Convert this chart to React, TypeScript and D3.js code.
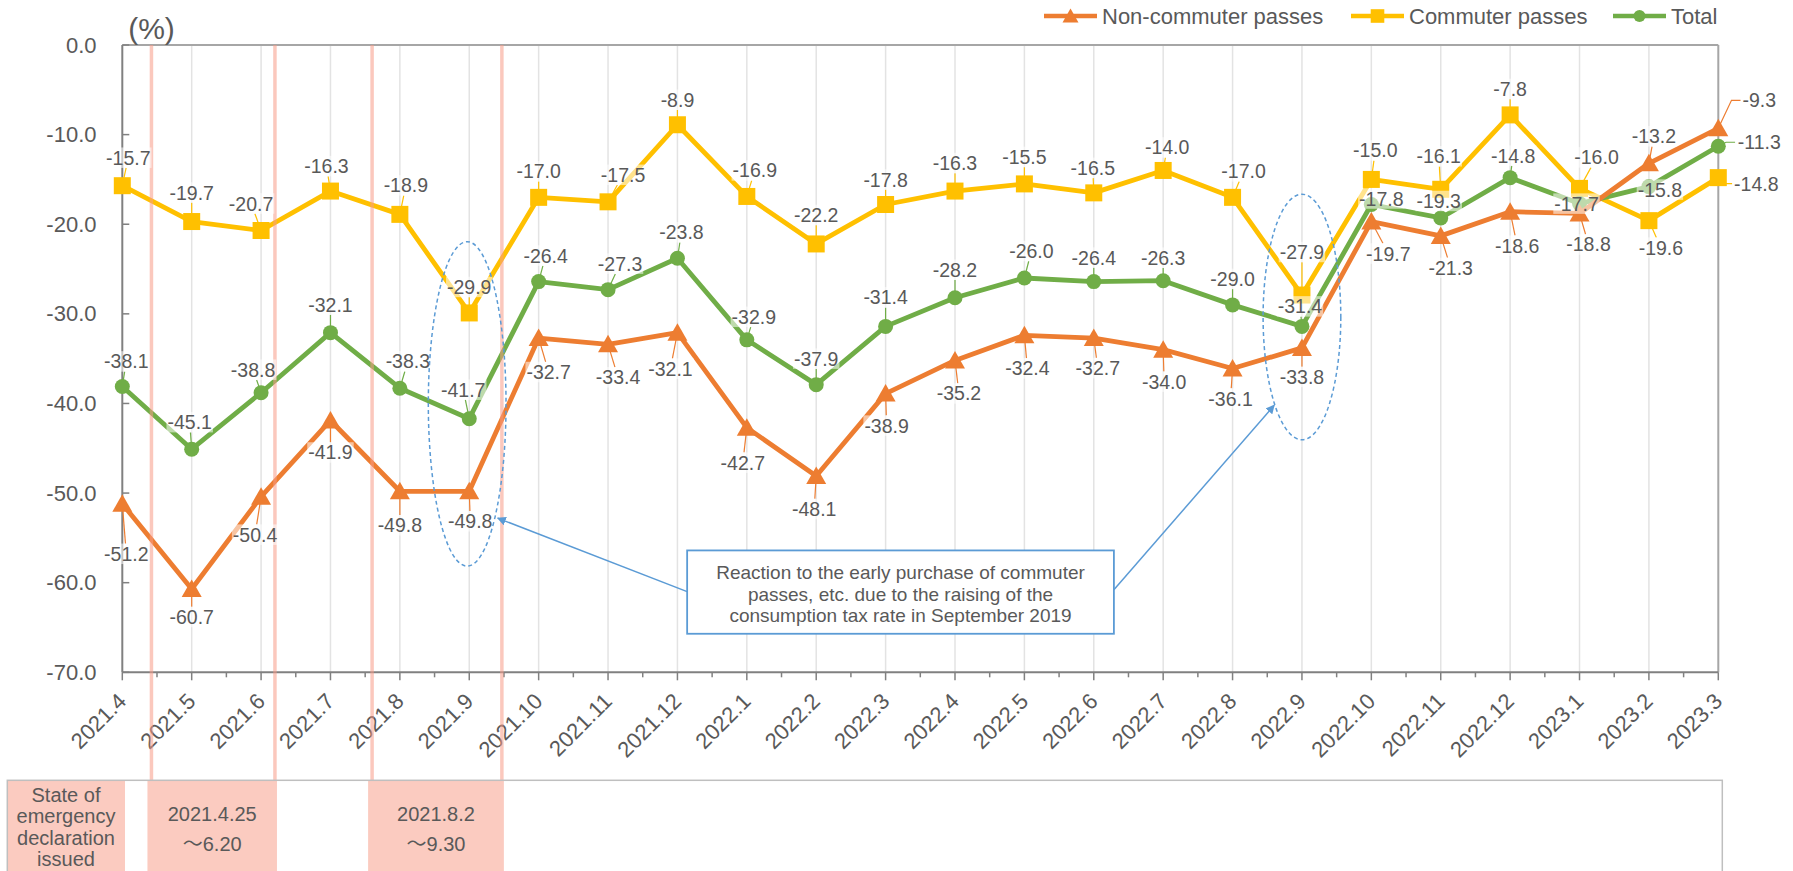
import * as d3 from "d3";

// months on the category axis
const categories = [
  "2021.4", "2021.5", "2021.6", "2021.7", "2021.8", "2021.9", "2021.10", "2021.11", "2021.12",
  "2022.1", "2022.2", "2022.3", "2022.4", "2022.5", "2022.6", "2022.7", "2022.8", "2022.9",
  "2022.10", "2022.11", "2022.12", "2023.1", "2023.2", "2023.3",
];

// year-on-year change (%)
const nonCommuter = [-51.2, -60.7, -50.4, -41.9, -49.8, -49.8, -32.7, -33.4, -32.1, -42.7, -48.1, -38.9, -35.2, -32.4, -32.7, -34.0, -36.1, -33.8, -19.7, -21.3, -18.6, -18.8, -13.2, -9.3];
const commuter = [-15.7, -19.7, -20.7, -16.3, -18.9, -29.9, -17.0, -17.5, -8.9, -16.9, -22.2, -17.8, -16.3, -15.5, -16.5, -14.0, -17.0, -27.9, -15.0, -16.1, -7.8, -16.0, -19.6, -14.8];
const total = [-38.1, -45.1, -38.8, -32.1, -38.3, -41.7, -26.4, -27.3, -23.8, -32.9, -37.9, -31.4, -28.2, -26.0, -26.4, -26.3, -29.0, -31.4, -17.8, -19.3, -14.8, -17.7, -15.8, -11.3];

const yTicks = [0, -10, -20, -30, -40, -50, -60, -70];

// state of emergency periods, as positions on the month index
const emergencyPeriods = [
  { from: 0.42, to: 2.2, text: ["2021.4.25", "～6.20"] },
  { from: 3.6, to: 5.47, text: ["2021.8.2", "～9.30"] },
];

// data label offsets in px (dx, dy) from each point
const nonCommuterLabelPos = [[4, 50], [0, 28], [-6, 38], [0, 32], [0, 34], [1, 30], [10, 34], [10, 33], [-7, 36], [-4, 35], [-2, 33], [1, 32], [4, 33], [3, 33], [4, 30], [1, 32], [-2, 30], [0, 29], [17, 32], [10, 32], [7, 34], [9, 31], [5, -27], [41, -28]];
const commuterLabelPos = [[6, -28], [0, -29], [-10, -27], [-4, -25], [6, -29], [0, -26], [0, -26], [15, -27], [0, -25], [8, -26], [0, -29], [0, -25], [0, -28], [0, -27], [-1, -25], [4, -23], [11, -26], [0, -43], [4, -29], [-2, -33], [0, -26], [17, -31], [12, 27], [38, 6]];
const totalLabelPos = [[4, -25], [-2, -27], [-8, -23], [0, -28], [8, -27], [-6, -29], [7, -26], [12, -26], [4, -26], [7, -23], [0, -26], [0, -29], [0, -28], [7, -27], [0, -24], [0, -23], [0, -26], [-2, -20], [10, -6], [-2, -17], [3, -22], [-3, 0], [11, 3], [41, -4]];

const TEXT = "#595959";
const FONT = "'Liberation Sans', Arial, 'Noto Sans CJK JP', sans-serif";
const BLUE = "#5B9BD5";

const fmt = (v: number) => v.toFixed(1);
const charW = (c: string) => (c === "." ? 0.278 : c === "-" ? 0.333 : 0.556);
const textWidth = (s: string, fs: number) => s.split("").reduce((a, c) => a + charW(c), 0) * fs;

const series = [
  { name: "Commuter passes", values: commuter, color: "#FFC000", marker: "square", pos: commuterLabelPos },
  { name: "Total", values: total, color: "#70AD47", marker: "circle", pos: totalLabelPos },
  { name: "Non-commuter passes", values: nonCommuter, color: "#ED7D31", marker: "triangle", pos: nonCommuterLabelPos },
];

const legendItems = [
  { name: "Non-commuter passes", color: "#ED7D31", marker: "triangle", x: 1044 },
  { name: "Commuter passes", color: "#FFC000", marker: "square", x: 1351 },
  { name: "Total", color: "#70AD47", marker: "circle", x: 1613 },
];

function Marker({ type, cx, cy, color, s = 1 }) {
  if (type === "triangle")
    return <path d={`M${cx},${cy - 9.5 * s} L${cx + 10 * s},${cy + 8 * s} L${cx - 10 * s},${cy + 8 * s} Z`} fill={color} />;
  if (type === "square")
    return <rect x={cx - 8.5 * s} y={cy - 8.5 * s} width={17 * s} height={17 * s} fill={color} />;
  return <circle cx={cx} cy={cy} r={7.5 * s} fill={color} />;
}

export default function App() {
  const x = d3.scaleLinear().domain([0, categories.length - 1]).range([122.3, 1718.3]);
  const y = d3.scaleLinear().domain([0, -70]).range([45, 672.3]);
  const [x0, x1] = x.range();
  const [yTop, yBot] = y.range();

  const line = d3.line<number>().x((_, i) => x(i)).y((d) => y(d));
  const labelFs = 19.5;

  const labels: any[] = [];
  series.forEach((s) => {
    s.values.forEach((v, i) => {
      const px = x(i), py = y(v);
      const cx = px + s.pos[i][0], cy = py + s.pos[i][1];
      const txt = fmt(v);
      const w = textWidth(txt, labelFs) + 2, h = labelFs * 1.05;
      let leader: string | null = null;
      const dx = cx - px, dy = cy - py;
      if (dx > w / 2 + 4) {
        const ex = cx - w / 2 - 1;
        leader = `M${px},${py} L${ex - 9},${cy} L${ex},${cy}`;
      } else if (Math.abs(dx) > w / 2 || Math.abs(dy) > h / 2) {
        const t = Math.min(dx === 0 ? Infinity : (w / 2) / Math.abs(dx), dy === 0 ? Infinity : (h / 2) / Math.abs(dy));
        const ex = cx - t * dx, ey = cy - t * dy;
        if (Math.hypot(ex - px, ey - py) > 9) leader = `M${px},${py} L${ex},${ey}`;
      }
      labels.push({ key: s.name + i, cx, cy, w, h, txt, leader, color: s.color });
    });
  });

  // annotation geometry (in data space)
  const ellipses = [
    { i: 4.97, v: -40.05, ri: 0.56, rv: 18.1 },
    { i: 17, v: -30.35, ri: 0.56, rv: 13.7 },
  ];
  const box = { i0: 8.14, i1: 14.29, v0: -56.4, v1: -65.7 };
  const arrows = [
    { from: [8.14, -61.0], to: [5.41, -52.8] },
    { from: [14.29, -60.8], to: [16.6, -40.2] },
  ];
  const calloutLines = [
    "Reaction to the early purchase of commuter",
    "passes, etc. due to the raising of the",
    "consumption tax rate in September 2019",
  ];

  return (
    <svg width={1793} height={871} style={{ position: "absolute", left: 0, top: 0, display: "block", background: "#fff" }} fontFamily={FONT}>
      <defs>
        <marker id="arrowHead" viewBox="0 0 10 10" refX="9" refY="5" markerWidth="6" markerHeight="6" orient="auto">
          <path d="M0,0 L10,5 L0,10 Z" fill={BLUE} />
        </marker>
      </defs>

      {/* gridlines */}
      {categories.map((c, i) =>
        i > 0 && i < categories.length - 1 ? (
          <line key={c} x1={x(i)} x2={x(i)} y1={yTop} y2={yBot} stroke="#E3E3E3" strokeWidth={1.5} />
        ) : null
      )}
      {/* plot border top / right */}
      <line x1={x0} x2={x1} y1={yTop} y2={yTop} stroke="#A6A6A6" strokeWidth={2} />
      <line x1={x1} x2={x1} y1={yTop} y2={yBot} stroke="#A6A6A6" strokeWidth={2} />

      {/* y axis */}
      <line x1={x0} x2={x0} y1={yTop} y2={yBot} stroke="#808080" strokeWidth={2} />
      {yTicks.map((t) => (
        <g key={t}>
          <line x1={x0} x2={x0 + 7} y1={y(t)} y2={y(t)} stroke="#808080" strokeWidth={1.5} />
          <text x={96.5} y={y(t)} textAnchor="end" dominantBaseline="central" fontSize={22} fill={TEXT}>
            {fmt(t)}
          </text>
        </g>
      ))}
      <text x={151.5} y={28} textAnchor="middle" dominantBaseline="central" fontSize={30} fill={TEXT}>(%)</text>

      {/* x axis */}
      <line x1={x0} x2={x1} y1={yBot} y2={yBot} stroke="#808080" strokeWidth={2} />
      {categories.map((c, i) => (
        <g key={c}>
          <line x1={x(i)} x2={x(i)} y1={yBot} y2={yBot + 8} stroke="#808080" strokeWidth={1.5} />
          {i < categories.length - 1 && (
            <line x1={x(i + 0.5)} x2={x(i + 0.5)} y1={yBot} y2={yBot + 5} stroke="#808080" strokeWidth={1.5} />
          )}
          <text
            transform={`translate(${x(i)},${yBot + 25}) rotate(-45)`}
            textAnchor="end"
            dominantBaseline="central"
            fontSize={22}
            fill={TEXT}
          >
            {c}
          </text>
        </g>
      ))}

      {/* series lines */}
      {series.map((s) => (
        <g key={s.name}>
          {labels.filter((l) => l.color === s.color && l.leader).map((l) => (
            <path key={l.key} d={l.leader} fill="none" stroke={s.color} strokeWidth={1.2} />
          ))}
          <path d={line(s.values) || ""} fill="none" stroke={s.color} strokeWidth={4.8} strokeLinejoin="round" />
          {s.values.map((v, i) => (
            <Marker key={i} type={s.marker} cx={x(i)} cy={y(v)} color={s.color} />
          ))}
        </g>
      ))}

      {/* emergency period markers */}
      {emergencyPeriods.map((p, k) => (
        <g key={k}>
          <line x1={x(p.from)} x2={x(p.from)} y1={yTop} y2={780} stroke="#F79A86" strokeOpacity={0.55} strokeWidth={3.5} />
          <line x1={x(p.to)} x2={x(p.to)} y1={yTop} y2={780} stroke="#F79A86" strokeOpacity={0.55} strokeWidth={3.5} />
        </g>
      ))}

      {/* data labels */}
      {labels.map((l) => (
        <g key={l.key}>
          <rect x={l.cx - l.w / 2} y={l.cy - l.h / 2} width={l.w} height={l.h} fill="#fff" fillOpacity={0.55} />
          <text x={l.cx} y={l.cy} textAnchor="middle" dominantBaseline="central" fontSize={labelFs} fill={TEXT}>
            {l.txt}
          </text>
        </g>
      ))}

      {/* dashed ellipses */}
      {ellipses.map((e, k) => (
        <ellipse
          key={k}
          cx={x(e.i)}
          cy={y(e.v)}
          rx={x(e.ri) - x(0)}
          ry={y(-e.rv) - y(0)}
          fill="none"
          stroke={BLUE}
          strokeWidth={1.5}
          strokeDasharray="4 3"
        />
      ))}

      {/* callout */}
      {arrows.map((a, k) => (
        <line
          key={k}
          x1={x(a.from[0])}
          y1={y(a.from[1])}
          x2={x(a.to[0])}
          y2={y(a.to[1])}
          stroke={BLUE}
          strokeWidth={1.5}
          markerEnd="url(#arrowHead)"
        />
      ))}
      <rect
        x={x(box.i0)}
        y={y(box.v0)}
        width={x(box.i1) - x(box.i0)}
        height={y(box.v1) - y(box.v0)}
        fill="#fff"
        stroke={BLUE}
        strokeWidth={1.8}
      />
      {calloutLines.map((t, k) => (
        <text
          key={k}
          x={(x(box.i0) + x(box.i1)) / 2}
          y={y(box.v0) + 22 + k * 21.7}
          textAnchor="middle"
          dominantBaseline="central"
          fontSize={19}
          fill={TEXT}
        >
          {t}
        </text>
      ))}

      {/* legend */}
      {legendItems.map((it) => (
        <g key={it.name}>
          <line x1={it.x} x2={it.x + 53} y1={16} y2={16} stroke={it.color} strokeWidth={4.5} />
          <Marker type={it.marker} cx={it.x + 26.5} cy={16} color={it.color} s={0.8} />
          <text x={it.x + 58} y={16} dominantBaseline="central" fontSize={22} fill={TEXT}>
            {it.name}
          </text>
        </g>
      ))}

      {/* emergency declaration table */}
      <rect x={7.3} y={780.3} width={117.7} height={100} fill="#FBCBC0" />
      {emergencyPeriods.map((p, k) => (
        <g key={k}>
          <rect x={x(p.from) - 4} y={780.3} width={x(p.to) - x(p.from) + 6} height={100} fill="#FBCBC0" />
          {p.text.map((t, j) => (
            <text
              key={j}
              x={(x(p.from) + x(p.to)) / 2 - 1}
              y={814 + j * 30}
              textAnchor="middle"
              dominantBaseline="central"
              fontSize={20}
              fill={TEXT}
            >
              {t}
            </text>
          ))}
        </g>
      ))}
      {["State of", "emergency", "declaration", "issued"].map((t, j) => (
        <text key={t} x={66} y={802 + j * 21.3} textAnchor="middle" fontSize={20} fill={TEXT}>
          {t}
        </text>
      ))}
      <rect x={7.3} y={780.3} width={1715} height={120} fill="none" stroke="#BFBFBF" strokeWidth={1.5} />
    </svg>
  );
}
